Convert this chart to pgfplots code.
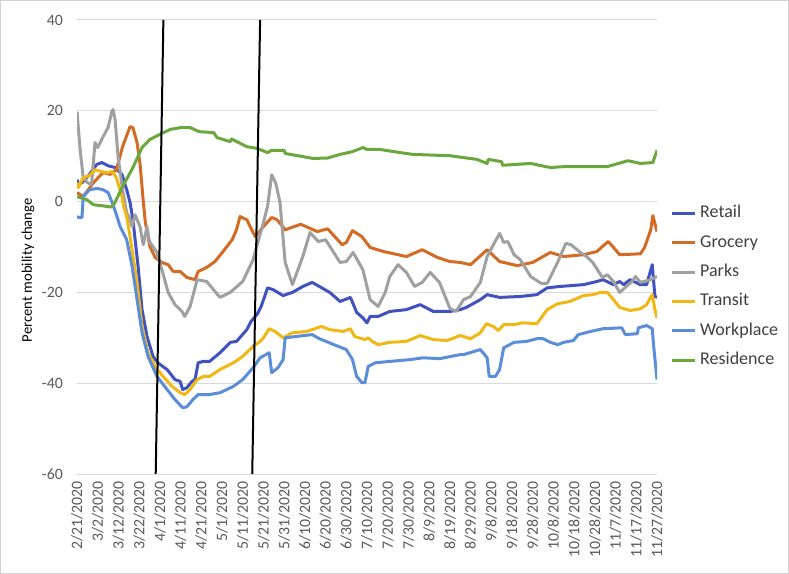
\documentclass[border=0pt]{standalone}
\usepackage{fontspec}
\setmainfont{Carlito}
\usepackage{pgfplots}
\pgfplotsset{compat=1.18}
\definecolor{cRetail}{RGB}{64,82,192}
\definecolor{cGrocery}{RGB}{211,107,36}
\definecolor{cParks}{RGB}{160,160,160}
\definecolor{cTransit}{RGB}{240,184,20}
\definecolor{cWork}{RGB}{91,141,217}
\definecolor{cRes}{RGB}{106,168,62}
\definecolor{gridgray}{RGB}{217,217,217}
\definecolor{tickgray}{RGB}{89,89,89}
\definecolor{framegray}{RGB}{210,210,210}

\begin{document}
\begin{tikzpicture}
\draw[framegray, line width=1bp] (0.5bp,0.5bp) rectangle (788.5bp,573.5bp);
\begin{axis}[
  at={(77bp,100bp)}, anchor=south west,
  scale only axis, width=580bp, height=454bp,
  xmin=0, xmax=280, ymin=-60, ymax=40,
  xtick={0,10,...,280},
  xticklabels={2/21/2020,3/2/2020,3/12/2020,3/22/2020,4/1/2020,4/11/2020,4/21/2020,5/1/2020,5/11/2020,5/21/2020,5/31/2020,6/10/2020,6/20/2020,6/30/2020,7/10/2020,7/20/2020,7/30/2020,8/9/2020,8/19/2020,8/29/2020,9/8/2020,9/18/2020,9/28/2020,10/8/2020,10/18/2020,10/28/2020,11/7/2020,11/17/2020,11/27/2020},
  ytick={-60,-40,-20,0,20,40},
  yticklabels={-60,-40,-20,0,20,40},
  ymajorgrids, grid style={gridgray, line width=1bp},
  axis line style={draw=none},
  major tick length=0pt,
  tick label style={font=\fontsize{15.8bp}{18bp}\selectfont, text=tickgray, inner sep=0pt},
  x tick label style={rotate=90, anchor=east},
  xticklabel shift=7bp,
  yticklabel shift=14bp,
  ylabel={Percent mobility change},
  ylabel style={at={(axis description cs:-0.0845,0.449)}, anchor=center, font=\fontsize{14.7bp}{17bp}\selectfont, text=black},
  legend style={at={(1.0224,0.5936)}, anchor=north west, draw=none, fill=none, inner sep=0pt,
    row sep=12.4bp, column sep=4bp, font=\fontsize{18bp}{20bp}\selectfont,
    nodes={inner sep=0pt, text height=13bp, text depth=4bp, text=black!75}},
  legend cell align=left,
  legend image code/.code={\draw[#1] (0bp,0bp) -- (23bp,0bp);},
  every axis plot/.append style={line width=3bp, line join=round},
]
\addplot[cRetail] coordinates {
(0,4.8)(1,3.7)(3,4.4)(6,6)(9.6,8.2)(12,8.6)(15,7.9)(18.4,7.5)(21.7,6)(24,2.6)(25.6,-0.2)(27,-4)(29.5,-14.3)(31.4,-23.8)(33.8,-29.7)(36.7,-34.1)(39,-35.5)(43.5,-37)(47.3,-39.2)(49.8,-39.6)(51,-41.4)(53,-41)(55.5,-39.6)(57,-39.2)(58.5,-35.5)(61,-35.2)(64,-35.2)(69,-33.3)(74,-31)(77,-30.8)(82,-28.2)(84,-26.4)(87,-24.8)(89,-23)(92,-19)(94.7,-19.4)(99.5,-20.7)(104,-20)(109,-18.7)(113.5,-17.8)(117,-18.7)(122,-20)(127,-22)(132,-21.1)(135,-24.4)(138,-25.6)(140,-26.7)(141.5,-25.3)(145.4,-25.3)(151,-24.2)(159,-23.8)(165.7,-22.7)(172,-24.2)(180,-24.2)(185,-23.8)(188,-23.3)(194.7,-21.6)(198,-20.5)(204,-21.1)(214,-20.9)(222,-20.5)(227,-19)(233,-18.7)(244.5,-18.3)(251,-17.6)(254,-17.2)(259,-18.3)(262,-17.6)(264,-18.3)(267,-17.2)(272,-18.3)(275,-18.3)(277.7,-13.9)(279,-20.9)(280,-21.1)
};
\addlegendentry{Retail}
\addplot[cGrocery] coordinates {
(0,2)(3,1.1)(8,4.2)(12.6,6.4)(16,6)(19,7)(22,12.1)(25.6,16.5)(27,16.3)(29,13)(30.5,8)(32,0)(33,-4.6)(35.2,-9.9)(37.7,-12.3)(41,-13.4)(44,-13.9)(46.5,-15.4)(49.8,-15.4)(53,-16.7)(57,-17.2)(58.5,-15.4)(62.6,-14.5)(66.6,-13.2)(70.5,-11)(74.9,-8.4)(77,-6.2)(78.7,-3.3)(82,-4)(83.6,-5.5)(86,-7.7)(90,-5.5)(94,-3.5)(96.6,-4)(100.5,-6.2)(108,-5)(116,-6.6)(121,-6)(128,-9.5)(130,-9)(133,-6.4)(137.5,-7.7)(141.5,-10.1)(148,-11)(159,-12.1)(166.6,-10.6)(174,-12.3)(180,-13.2)(185,-13.4)(190,-13.9)(198,-10.6)(204,-13.2)(212.5,-14.1)(220,-13.4)(228.5,-11.2)(235,-12.1)(244.5,-11.7)(251,-11)(253.6,-9.9)(256.5,-8.8)(259,-10.1)(262,-11.7)(272,-11.5)(274,-10.1)(277,-6.2)(278,-3.1)(280,-6.6)
};
\addlegendentry{Grocery}
\addplot[cParks] coordinates {
(0,19.8)(1.5,11.5)(3,5.3)(5,4.2)(7,3.7)(8.7,13)(10,11.9)(12.6,14.3)(15,16.3)(16.8,19.8)(17.4,20.3)(18.4,18)(19.8,10)(22,2.6)(24,-2.5)(25,-3.3)(26.6,-5.5)(28,-2.9)(30.4,-5.5)(32,-9.5)(33.8,-5.5)(35,-8.8)(38.6,-11.2)(41,-15)(44,-20)(47.3,-22.7)(50.7,-24.2)(52,-25.3)(54.6,-23.1)(58,-17.2)(62.6,-17.6)(69,-21.1)(74,-20)(80,-17.6)(85,-12.8)(90,-4.6)(92,-1)(94,5.9)(96,4)(98,-0.2)(100.5,-13.4)(104,-18.3)(109,-12.1)(112.5,-6.8)(116.5,-8.8)(120,-8.4)(127,-13.4)(130,-13.2)(133.3,-11.2)(138,-15)(141.5,-21.6)(145.4,-23.1)(148.8,-20)(151,-16.5)(155,-13.9)(159,-15.6)(163,-18.7)(166.6,-17.8)(170.5,-15.6)(175,-17.8)(180,-23.5)(183,-24.2)(186.6,-21.6)(190,-20.9)(194.7,-17.8)(198,-12.1)(201,-9.5)(204,-7)(206,-9)(208,-8.8)(211,-11.7)(214,-12.8)(219,-16.5)(224,-18)(227,-18)(232,-13.4)(236,-9.2)(238.5,-9.5)(243,-11.2)(246,-12.1)(249,-13.4)(253.6,-16.7)(256,-16.1)(259,-17.6)(262,-20)(264.7,-18.9)(268,-17.6)(269.6,-16.5)(272,-17.8)(277,-17.2)(280,-16.5)
};
\addlegendentry{Parks}
\addplot[cTransit] coordinates {
(0,4.2)(0.7,3.1)(3,5.3)(6,5.7)(8.7,7)(12,6.6)(14.5,6.4)(17,6.6)(19,5.3)(21.7,1.1)(22.5,-1.1)(24,-3.3)(25.6,-7.7)(29,-17.8)(31.4,-27.5)(34.3,-33.3)(37.7,-36.3)(41.5,-38.5)(45.9,-40.7)(49.8,-42.1)(52,-42.5)(54.6,-41.4)(58,-39.2)(61,-38.5)(64,-38.5)(69,-37)(75.5,-35.5)(80,-34.1)(85,-31.9)(88.4,-30.8)(90,-30)(92.8,-28)(95.6,-28.6)(99.5,-30)(104,-28.9)(111,-28.6)(118,-27.5)(122,-28.2)(128.5,-28.6)(132,-28)(134,-29.7)(139,-30.4)(140.6,-30)(142.5,-30.8)(145.4,-31.5)(151,-31)(159,-30.8)(165.7,-29.5)(172,-30.4)(178.7,-30.6)(185,-29.5)(190,-30.2)(194.7,-28.9)(197.6,-26.9)(201,-27.5)(203.4,-28.4)(206,-27.1)(211,-27.1)(215,-26.7)(222,-26.9)(227,-23.8)(232,-22.5)(238,-22)(244.5,-20.7)(249,-20.5)(252.7,-20)(256,-20)(259,-21.6)(262,-23.3)(267,-24)(272,-23.6)(275,-22.7)(277.7,-20.5)(279,-23.8)(280,-25.6)
};
\addlegendentry{Transit}
\addplot[cWork] coordinates {
(0,-3.3)(1,-3.5)(2.4,-3.5)(3,1.1)(6,2.6)(9.6,2.9)(12.6,2.6)(15,2)(17.4,-0.7)(19.8,-4)(20.8,-5.5)(24,-8.4)(26.6,-14.3)(29,-21.6)(31.4,-28.9)(34.3,-34.1)(38.6,-38.5)(43.5,-41.4)(47.3,-43.6)(51,-45.4)(53,-45.2)(56,-43.6)(58.5,-42.5)(64,-42.5)(69,-42.1)(75.5,-40.7)(80,-39.2)(85,-36.6)(88.4,-34.4)(92.8,-33.3)(94,-37.7)(97,-36.6)(99.5,-34.8)(100.5,-30)(106,-29.7)(113.5,-29.3)(117,-30.2)(124,-31.5)(130,-32.6)(133,-34.8)(135,-38.5)(137.6,-39.9)(139,-39.9)(140.6,-36.3)(144,-35.5)(151,-35.2)(161,-34.8)(167,-34.4)(175,-34.6)(185,-33.7)(186.6,-33.7)(194.7,-32.6)(196,-33.3)(198,-34.4)(199,-38.5)(202,-38.5)(204,-37)(206,-32.2)(211,-31)(217,-30.8)(222,-30.2)(225,-30.2)(228.5,-31)(232,-31.5)(235,-31)(239.6,-30.6)(242,-29.3)(248,-28.6)(254,-28)(263,-27.8)(264.7,-29.3)(270.5,-29.1)(271,-27.8)(275,-27.3)(277.7,-28)(278.4,-31.9)(280,-39.2)
};
\addlegendentry{Workplace}
\addplot[cRes] coordinates {
(0,1.1)(4.8,0.4)(8,-0.7)(12,-0.9)(16.4,-1.2)(18,-0.5)(22,3.3)(27,7.5)(31.4,11.9)(35.2,13.7)(40,14.8)(45,15.9)(50,16.3)(54.6,16.3)(59,15.4)(66,15.2)(67.6,14.1)(74,13.2)(74.5,13.8)(82,12.1)(87,11.7)(92,10.8)(94,11.3)(100,11.3)(100.5,10.6)(108,10)(114,9.5)(121,9.6)(127,10.4)(133,11)(138,11.9)(140,11.5)(146,11.5)(156,10.8)(162,10.4)(180,10.1)(193,9.3)(198,8.4)(198.5,9.3)(205,8.8)(205.5,8)(219,8.4)(228.5,7.5)(235,7.7)(256,7.7)(266,9)(272,8.4)(278,8.6)(280,11.3)
};
\addlegendentry{Residence}
\addplot[black, line width=2bp, forget plot] coordinates {(41.7,40)(38.0,-60)};
\addplot[black, line width=2bp, forget plot] coordinates {(88.4,40)(84.6,-60)};
\end{axis}
\pgfresetboundingbox
\path[use as bounding box] (0,0) rectangle (789bp,574bp);
\end{tikzpicture}
\end{document}
